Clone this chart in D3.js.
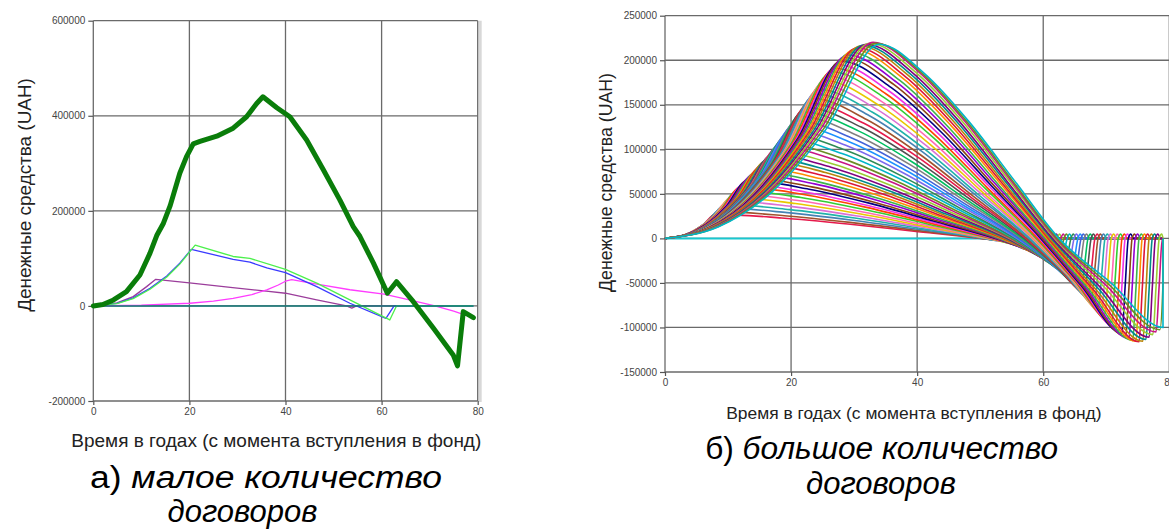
<!DOCTYPE html>
<html><head><meta charset="utf-8">
<script src="https://cdn.jsdelivr.net/npm/d3@7"></script>
<style>body{margin:0;background:#fff}svg{display:block}</style>
</head><body><svg id="c" width="1169" height="530"></svg>
<script>
// ---------- Panel (a): small number of contracts ----------
const leftXTicks = [0, 20, 40, 60, 80];
const leftYTicks = [-200000, 0, 200000, 400000, 600000];
const fundTotal = [[0,0],[2,3000],[4.2,12600],[6.9,30000],[9.7,65000],[11.8,111000],[13.2,148000],[14.6,174000],[16,211000],[18,279000],[19.4,314000],[20.8,341000],[22.2,346000],[25.7,357000],[29.1,374000],[31.9,398000],[34,426000],[35.3,440000],[38.2,417000],[40.9,398000],[44.4,349000],[47.9,286000],[51.3,223000],[54.1,167000],[55.5,146000],[58.3,90000],[61.2,26700],[63.1,51000],[66.6,9000],[70.8,-47000],[74.9,-103000],[75.8,-126000],[77,-12000],[79.1,-24600]];
const contractBlue = [[0,0],[4.9,5500],[8.3,17000],[11.8,37000],[15.3,63000],[18,90000],[20.4,119000],[29.1,98000],[32.6,92000],[36.1,80000],[40,70000],[46.5,40600],[53.4,5600],[60.9,-26000],[62.6,0],[79,0]];
const contractGreen = [[0,0],[4.9,5000],[8.3,15500],[11.8,35000],[15.3,61000],[18,88000],[20,113000],[21.2,128000],[29.1,104000],[32.6,100000],[40,77000],[46.5,48000],[53.4,12600],[61.7,-29500],[63.1,0],[79,0]];
const contractPurple = [[0,0],[4.9,6500],[8.3,19600],[11.1,40600],[13,56000],[20,48500],[29,38500],[36,31000],[40,26700],[46.5,12600],[52.7,0],[53.8,-4500],[54.8,0],[79,0]];
const contractMagenta = [[0,0],[10,1500],[20.1,5600],[25,10000],[29.1,16000],[33,24000],[36.1,33600],[38.5,44000],[40,52000],[41.3,55500],[46.5,46000],[53.4,34000],[60.5,25000],[66,12000],[71.1,0],[75,-11000],[79.1,-25000]];
const contractTeal = [[0,0],[79,0]];

// ---------- Panel (b): large number of contracts ----------
const rightXTicks = [0, 20, 40, 60, 80];
const rightYTicks = [-150000, -100000, -50000, 0, 50000, 100000, 150000, 200000, 250000];
const peakYear  = [8,8.5,9,9.5,10,10.5,11,11.5,12,12.5,13,13.5,14,14.5,15,15.5,16,16.5,17,17.5,18,18.5,19,19.5,20,20.5,21,21.5,22,22.5,23,23.5,24,24.5,25,25.5,26,26.5,27,27.5,28,28.5,29,29.5,30,30.5,31,31.5,32,32.5,33,33.5,34];
const peakValue = [27000,30000,34000,38000,42000,46000,50000,54000,58000,61000,65000,68000,72000,75000,79000,83000,87000,90000,94000,98000,103000,107000,112000,117000,122000,127000,132000,137000,142000,147000,152000,157000,162000,167000,172000,177000,182000,187000,191000,195000,199000,203000,206000,209000,212000,214000,216000,217000,218000,219000,220000,219000,218000];
const zeroYear  = [50,50.2,50.5,50.7,51,51.2,51.4,51.7,51.9,52.2,52.4,52.6,52.9,53.1,53.4,53.6,53.8,54.1,54.3,54.6,54.8,55,55.3,55.5,55.8,56,56.2,56.5,56.7,57,57.2,57.4,57.7,57.9,58.2,58.4,58.6,58.9,59.1,59.4,59.6,59.8,60.1,60.3,60.6,60.8,61,61.3,61.5,61.8,62,62.2,62.5];
const minYear   = [51,51.5,52.1,52.6,53.2,53.7,54.2,54.8,55.3,55.8,56.4,56.9,57.5,58,58.5,59.1,59.6,60.2,60.7,61.2,61.8,62.3,62.8,63.4,63.9,64.5,65,65.5,66.1,66.6,67.2,67.7,68.2,68.8,69.3,69.8,70.4,70.9,71.5,72,72.5,73.1,73.6,74.2,74.7,75.2,75.8,76.3,76.8,77.4,77.9,78.5,79];
const minValue  = [-1000,-1500,-2100,-2600,-3200,-3700,-4300,-5600,-6600,-7600,-9200,-10700,-12500,-14000,-15500,-17400,-19400,-21800,-23800,-26000,-29000,-31500,-34000,-37000,-39500,-43500,-47000,-50500,-55000,-59000,-63500,-67000,-71000,-76000,-80500,-85000,-90000,-94000,-99000,-103000,-106500,-110000,-112500,-114500,-115500,-116000,-115500,-113500,-111000,-108000,-105000,-102500,-100000];
// shape of a contract curve: share of time to the peak -> share of peak value
const riseShape = [[0,0],[0.25,0.06],[0.5,0.24],[0.75,0.56],[1,1]];
// after the peak: share of time from peak to zero crossing -> share of peak value
const fallShape = [[0.25,0.85],[0.5,0.6],[0.75,0.3]];
const lineColors = ["#e6194b","#3cb44b","#4363d8","#f032e6","#00b5c8","#e8c800","#800080","#a0522d","#ff8c00","#808080","#000080","#2e8b57","#ff69b4","#9acd32","#4682b4","#dc143c","#00c060","#8b4513","#7b68ee","#32cd32","#c71585","#20b2aa","#b8860b","#505050","#9400d3","#1e90ff","#ff4500","#6b8e23","#da70d6","#008b8b"];

const FONT = "'Liberation Sans', Arial, sans-serif";
const svg = d3.select('#c');
svg.append('rect').attr('width',1169).attr('height',530).attr('fill','#fff');

function drawFrame(x, y, xTicks, yTicks, shadow) {
  const g = svg.append('g');
  const [x0, x1] = x.range();
  const [y0, y1] = y.range();
  if (shadow) {
    g.append('line').attr('x1', x1 + 2.5).attr('x2', x1 + 2.5).attr('y1', y1).attr('y2', y0 + 1)
      .attr('stroke', '#d8d8d8').attr('stroke-width', 3);
  }
  g.selectAll('.gx').data(xTicks).join('line')
    .attr('x1', d => x(d)).attr('x2', d => x(d)).attr('y1', y0).attr('y2', y1)
    .attr('stroke', '#6a6a6a').attr('stroke-width', 1.3);
  g.selectAll('.gy').data(yTicks).join('line')
    .attr('y1', d => y(d)).attr('y2', d => y(d)).attr('x1', x0).attr('x2', x1)
    .attr('stroke', '#6a6a6a').attr('stroke-width', 1.3);
  const ya = svg.append('g').attr('transform', `translate(${x0},0)`)
    .call(d3.axisLeft(y).tickValues(yTicks).tickSize(5).tickPadding(3).tickFormat(d => String(d)));
  const xa = svg.append('g').attr('transform', `translate(0,${y0})`)
    .call(d3.axisBottom(x).tickValues(xTicks).tickSize(4).tickPadding(3).tickFormat(d => String(d)));
  [ya, xa].forEach(a => {
    a.select('.domain').remove();
    a.selectAll('.tick line').attr('stroke', '#555').attr('stroke-width', 1.2);
    a.selectAll('.tick text').attr('fill', '#444').attr('font-size', 10).attr('font-family', FONT);
  });
}

// ----- left panel -----
const xL = d3.scaleLinear().domain([0, 80]).range([93.3, 477.7]);
const yL = d3.scaleLinear().domain([-200000, 600000]).range([401, 20.7]);
drawFrame(xL, yL, leftXTicks, leftYTicks, true);
const lineL = d3.line().x(d => xL(d[0])).y(d => yL(d[1]));
const leftSeries = [
  {data: contractPurple, color: '#9b3d9b', w: 1.3},
  {data: contractMagenta, color: '#ff3cff', w: 1.3},
  {data: contractBlue, color: '#3a3aff', w: 1.3},
  {data: contractGreen, color: '#4cf04c', w: 1.3},
  {data: contractTeal, color: '#137a7a', w: 1.4},
  {data: fundTotal, color: '#0a7d0a', w: 5}
];
svg.append('g').selectAll('path').data(leftSeries).join('path')
  .attr('d', d => lineL(d.data)).attr('fill', 'none')
  .attr('stroke', d => d.color).attr('stroke-width', d => d.w)
  .attr('stroke-linejoin', 'round').attr('stroke-linecap', 'round');

// ----- right panel -----
const xR = d3.scaleLinear().domain([0, 80]).range([665, 1169.3]);
const yR = d3.scaleLinear().domain([-150000, 250000]).range([372, 15.7]);
drawFrame(xR, yR, rightXTicks, rightYTicks, false);
const contracts = peakYear.map((tp, i) => {
  const vp = peakValue[i], tz = zeroYear[i], tm = minYear[i], vm = minValue[i];
  const pts = riseShape.map(([f, g]) => [f * tp, g * vp]);
  fallShape.forEach(([f, g]) => pts.push([tp + f * (tz - tp), g * vp]));
  pts.push([tz, 0], [(tz + tm) / 2, 0.5 * vm], [tm, vm],
           [tm + 0.5, 0.5 * vm], [tm + 1.0, 0], [tm + 1.4, 5000], [tm + 1.8, 0], [79, 0]);
  return pts.filter(p => p[0] <= 79.05).sort((a, b) => a[0] - b[0]);
});
const lineR = d3.line().x(d => xR(d[0])).y(d => yR(d[1])).curve(d3.curveMonotoneX);
svg.append('line').attr('x1', xR(0)).attr('x2', xR(79)).attr('y1', yR(0)).attr('y2', yR(0))
  .attr('stroke', '#18c8d0').attr('stroke-width', 2);
svg.append('g').selectAll('path').data(contracts).join('path')
  .attr('d', d => lineR(d)).attr('fill', 'none')
  .attr('stroke', (d, i) => lineColors[(i * 7) % lineColors.length])
  .attr('stroke-width', 1.6);

// ----- titles -----
function yTitle(x, yc, size) {
  svg.append('text').attr('transform', `translate(${x},${yc}) rotate(-90)`)
    .attr('text-anchor', 'middle').attr('font-family', FONT).attr('font-size', size)
    .attr('fill', '#222').text('Денежные средства (UAH)');
}
function xTitle(xc, yc, size) {
  svg.append('text').attr('x', xc).attr('y', yc).attr('dy', '0.35em')
    .attr('text-anchor', 'middle').attr('font-family', FONT).attr('font-size', size)
    .attr('fill', '#222').text('Время в годах (с момента вступления в фонд)');
}
yTitle(31, 195, 18.9);
yTitle(611.7, 182.5, 17.7);
xTitle(276.3, 440, 19);
xTitle(913.9, 412.5, 17.4);

function caption(xc, y, prefix, italicText, width) {
  const t = svg.append('text').attr('x', xc).attr('y', y).attr('text-anchor', 'middle')
    .attr('font-family', FONT).attr('font-size', 31).attr('fill', '#000');
  if (width) t.attr('textLength', width).attr('lengthAdjust', 'spacingAndGlyphs');
  if (prefix) t.append('tspan').text(prefix);
  t.append('tspan').attr('font-style', 'italic').text(italicText);
}
caption(266, 488, 'а) ', 'малое количество', 352);
caption(242.5, 522, '', 'договоров');
caption(881.7, 459, 'б) ', 'большое количество', 353);
caption(881, 494, '', 'договоров');
</script></body></html>
